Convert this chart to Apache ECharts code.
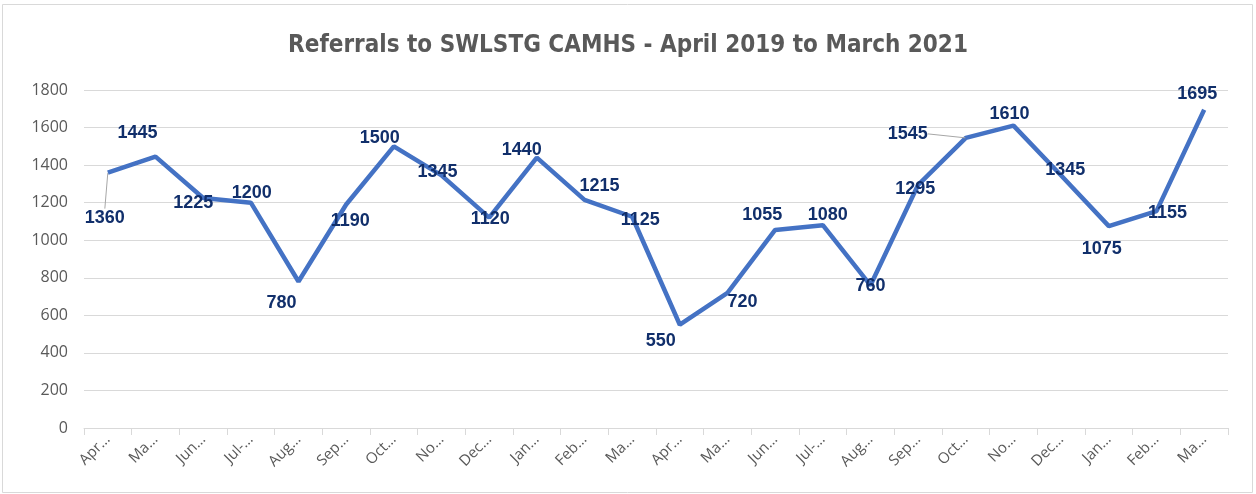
<!DOCTYPE html>
<html>
<head>
<meta charset="utf-8">
<script src="https://cdn.jsdelivr.net/npm/echarts@6/dist/echarts.min.js"></script>
<style>
html, body { margin: 0; padding: 0; background: #fff; }
#chart { width: 1256px; height: 494px; }
</style>
</head>
<body>
<div id="chart"></div>
<script>
// months Apr 2019 .. Mar 2021
var months = ["Apr-19","May-19","Jun-19","Jul-19","Aug-19","Sep-19","Oct-19","Nov-19","Dec-19","Jan-20","Feb-20","Mar-20",
	"Apr-20","May-20","Jun-20","Jul-20","Aug-20","Sep-20","Oct-20","Nov-20","Dec-20","Jan-21","Feb-21","Mar-21"];
// labels as they show, cut short
var tickLabels = ["Apr…","Ma…","Jun…","Jul-…","Aug…","Sep…","Oct…","No…","Dec…","Jan…","Feb…","Ma…",
	"Apr…","Ma…","Jun…","Jul-…","Aug…","Sep…","Oct…","No…","Dec…","Jan…","Feb…","Ma…"];
var referrals = [1360,1445,1225,1200,780,1190,1500,1345,1120,1440,1215,1125,
	550,720,1055,1080,760,1295,1545,1610,1345,1075,1155,1695];

// where each data label was dragged to (px from the point)
var labelShift = [[-3,45],[-18,-24],[-10,5],[1,-10],[-17,21],[4,16],[-14,-8],[-4,-3],[1,1],[-15,-8],[15,-14],[8,3],
	[-19,16],[15,9],[-13,-15],[5,-10],[0,1],[-3,4],[-58,-4],[-4,-12],[4,-5],[-7,23],[11,2],[-7,-16]];
var leaderLine = [0, 18];

var voChart = echarts.init(document.getElementById("chart"));

var vaData = referrals.map(function(v, i){
	var item = { value : v };
	if(leaderLine.indexOf(i) > -1) {
		item.labelLine = { show : true };
	}
	return item;
});

var moOptions = {
	animation : false,
	title : {
		text : "Referrals to SWLSTG CAMHS - April 2019 to March 2021",
		left : "center",
		top : 29,
		textStyle : {
			fontFamily : "'Liberation Sans Narrow', 'DejaVu Sans Condensed', sans-serif",
			fontSize : 24,
			fontWeight : "bold",
			color : "#595959"
		}
	},
	graphic : [{
		type : "rect",
		shape : { x : 2.5, y : 4.5, width : 1250, height : 488 },
		style : { fill : "none", stroke : "#d9d9d9", lineWidth : 1 },
		silent : true
	}],
	grid : {
		top : 90,
		left : 84,
		right : 28,
		bottom : 66
	},
	xAxis : {
		type : "category",
		data : months,
		boundaryGap : true,
		axisLine : { lineStyle : { color : "#d9d9d9", width : 1 } },
		axisTick : { show : true, length : 7, lineStyle : { color : "#d9d9d9" } },
		axisLabel : {
			rotate : 45,
			interval : 0,
			margin : 9,
			color : "#595959",
			fontFamily : "'Open Sans', sans-serif",
			fontSize : 15,
			formatter : function(value, idx){
				return tickLabels[idx];
			}
		}
	},
	yAxis : {
		type : "value",
		min : 0,
		max : 1800,
		interval : 200,
		axisLine : { show : false },
		axisTick : { show : false },
		axisLabel : {
			margin : 16,
			color : "#595959",
			fontFamily : "'Open Sans', sans-serif",
			fontSize : 16,
			formatter : function(v){
				return String(v);
			}
		},
		splitLine : { lineStyle : { color : "#d9d9d9", width : 1 } }
	},
	series : [{
		type : "line",
		data : vaData,
		symbol : "circle",
		symbolSize : 1,
		showSymbol : true,
		lineStyle : { color : "#4472c4", width : 4.5 },
		itemStyle : { color : "rgba(68,114,196,0)" },
		label : {
			show : true,
			position : "inside",
			color : "#112f6b",
			fontFamily : "'Liberation Sans', sans-serif",
			fontWeight : "bold",
			fontSize : 18
		},
		labelLine : {
			show : false,
			lineStyle : { color : "#a6a6a6", width : 1 }
		},
		labelLayout : function(params){
			var s = labelShift[params.dataIndex];
			return { dx : s[0], dy : s[1] };
		}
	}]
};

voChart.setOption(moOptions);
</script>
</body>
</html>
